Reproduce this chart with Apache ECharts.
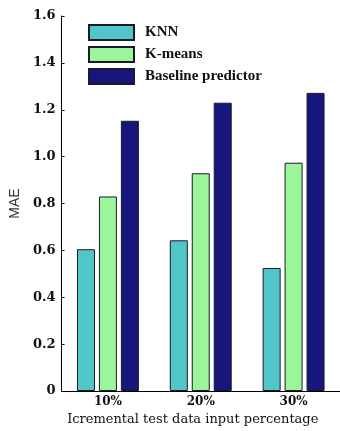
<!DOCTYPE html>
<html><head><meta charset="utf-8">
<script src="https://cdn.jsdelivr.net/npm/echarts@6/dist/echarts.min.js"></script>
<style>html,body{margin:0;padding:0;background:#fff}#c{width:340px;height:431px}</style>
</head><body><div id="c"></div>
<script>
const categories = ['10%', '20%', '30%'];
const seriesNames = ['KNN', 'K-means', 'Baseline predictor'];
const knn = [0.605, 0.643, 0.525];
const kmeans = [0.83, 0.929, 0.974];
const baseline = [1.153, 1.23, 1.272];
const yTicks = [0, 0.2, 0.4, 0.6, 0.8, 1.0, 1.2, 1.4, 1.6];

const colors = ['#50C6C8', '#9BF59B', '#16167C'];
const serif = '"DejaVu Serif", "Liberation Serif", serif';
const chart = echarts.init(document.getElementById('c'));
const data = [knn, kmeans, baseline];
chart.setOption({
  animation: false,
  grid: { left: 61, top: 16, width: 282, bottom: 40 },
  legend: {
    left: 88, top: 24, padding: 0, orient: 'vertical', itemWidth: 45, itemHeight: 15, itemGap: 5,
    icon: 'rect',
    textStyle: { fontFamily: '"Liberation Serif", serif', fontWeight: 'bold', fontSize: 15, lineHeight: 15, color: '#111', padding: [0,0,0,6] },
    data: seriesNames
  },
  xAxis: {
    type: 'category', data: categories,
    axisLine: { lineStyle: { color: '#000', width: 1 } },
    axisTick: { show: false },
    axisLabel: { fontFamily: serif, fontWeight: 'bold', fontSize: 12, color: '#111', margin: 5 },
    name: 'Icremental test data input percentage', nameLocation: 'middle', nameGap: 22,
    nameTextStyle: { fontFamily: serif, fontSize: 13, color: '#111', padding: [0, 16, 0, 0] }
  },
  yAxis: {
    type: 'value', min: 0, max: 1.6, interval: 0.2,
    axisLine: { show: true, lineStyle: { color: '#000', width: 1 } },
    axisTick: { show: true, inside: true, length: 3, lineStyle: { color: '#000' } },
    splitLine: { show: false },
    axisLabel: { fontFamily: serif, fontWeight: 'bold', fontSize: 13, color: '#111', margin: 6,
      formatter: v => { const t = yTicks.find(x => Math.abs(x - v) < 1e-6); return t === 0 ? '0' : (t !== undefined ? t.toFixed(1) : ''); } },
    name: 'MAE', nameLocation: 'middle', nameGap: 34, nameRotate: 90,
    nameTextStyle: { fontFamily: '"Liberation Sans", Arial, sans-serif', fontSize: 14, color: '#333' }
  },
  series: seriesNames.map((n, i) => ({
    name: n, type: 'bar', data: data[i], barWidth: 18, barGap: '22%',
    itemStyle: { color: colors[i], borderColor: '#1a1a2a', borderWidth: 1 }
  }))
});
</script></body></html>
